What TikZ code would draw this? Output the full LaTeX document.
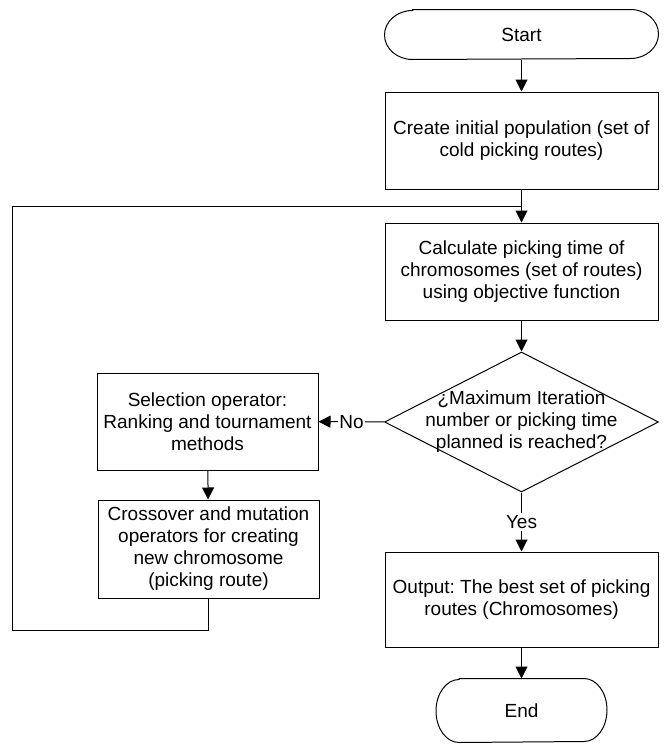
\documentclass[tikz,border=0pt]{standalone}
\usepackage{fontspec}
\setmainfont{Liberation Sans}
\usetikzlibrary{shapes.geometric,arrows.meta}
\frenchspacing
\begin{document}
\begin{tikzpicture}[x=1pt,y=-1pt,
  font=\fontsize{19}{22}\selectfont,
  line width=1pt,
  flowbox/.style={draw, rectangle, align=center, inner sep=2pt},
  bigbox/.style={flowbox, minimum width=273pt, minimum height=97pt},
  smallbox/.style={flowbox, minimum width=221pt, minimum height=97pt},
  termbox/.style={rectangle, draw=none, inner sep=0pt},
  conn/.style={-{Triangle[length=12pt,width=12pt]}},
  lbl/.style={fill=white, inner sep=1pt}
]
\useasboundingbox (0,0) rectangle (666,744);

\node[termbox, minimum width=273pt, minimum height=49pt] (start) at (521.5,34.5) {Start};
\node[bigbox] (init) at (521.5,140.5) {Create initial population (set of\\cold picking routes)};
\node[bigbox] (calc) at (521.5,271.5) {Calculate picking time of\\chromosomes (set of routes)\\using objective function};
\node[diamond, draw, minimum width=274pt, minimum height=140pt, inner sep=0pt,
      label={[align=center]center:{¿Maximum Iteration\\number or picking time\\planned is reached?}}] (dec) at (521.5,422) {};
\node[smallbox] (sel) at (207.5,421.5) {Selection operator:\\Ranking and tournament\\methods};
\node[smallbox, minimum height=98pt] (cross) at (208.5,549) {Crossover and mutation\\operators for creating\\new chromosome\\(picking route)};
\node[bigbox, minimum height=95pt] (out) at (521.5,599.5) {Output: The best set of picking\\routes (Chromosomes)};
\node[termbox, minimum width=170pt, minimum height=63pt] (end) at (521.5,710.5) {End};

% terminal outlines
\draw ([xshift=28pt]start.north west) -- ([xshift=-28pt]start.north east)
  arc[start angle=90,end angle=-90,x radius=28pt,y radius=24.5pt]
  -- ([xshift=28pt]start.south west)
  arc[start angle=270,end angle=90,x radius=28pt,y radius=24.5pt] -- cycle;
\draw ([xshift=23pt]end.north west) -- ([xshift=-23pt]end.north east)
  arc[start angle=90,end angle=-90,x radius=23pt,y radius=31.5pt]
  -- ([xshift=23pt]end.south west)
  arc[start angle=270,end angle=90,x radius=23pt,y radius=31.5pt] -- cycle;

% connectors
\draw[conn] (start) -- (init);
\draw[conn] (init) -- (calc);
\draw[conn] (calc) -- (dec);
\draw[conn] (dec) -- node[lbl]{No} (sel);
\draw[conn] (sel) -- (cross);
\draw[conn] (dec) -- node[lbl, inner sep=2pt]{Yes} (out);
\draw[conn] (out) -- (end);

% loop back
\coordinate (lb) at (12,630);
\coordinate (lt) at (12,206);
\coordinate (jn) at (521.5,206);
\draw (cross.south) |- (lb) -- (lt) -- (jn);
\end{tikzpicture}
\end{document}
